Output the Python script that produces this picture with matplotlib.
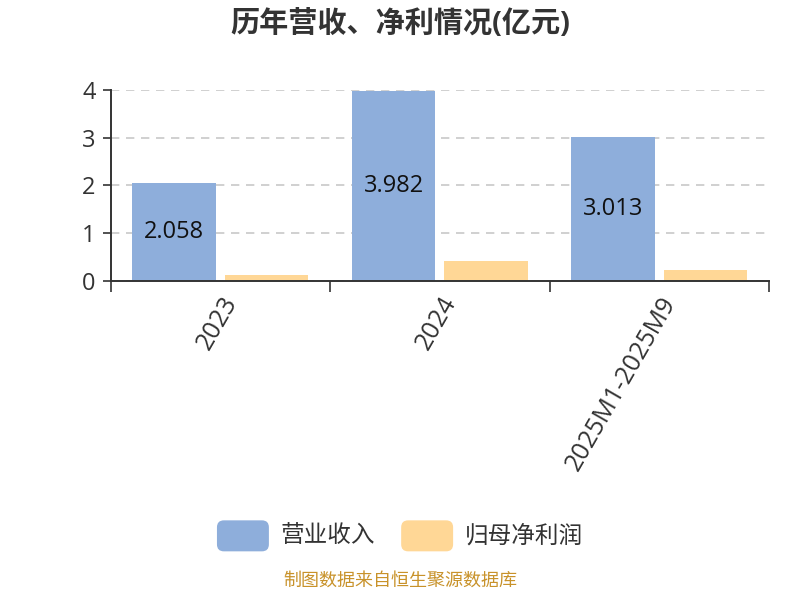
import matplotlib
matplotlib.use("Agg")
import matplotlib.pyplot as plt
import numpy as np
from matplotlib.patches import FancyBboxPatch
from matplotlib.legend_handler import HandlerPatch

plt.rcParams['font.family'] = ['Open Sans', 'Noto Sans CJK SC', 'DejaVu Sans']

categories = ["2023", "2024", "2025M1-2025M9"]
revenue = [2.058, 3.982, 3.013]
net_profit = [0.12, 0.41, 0.24]
revenue_labels = ["2.058", "3.982", "3.013"]
series_names = ["营业收入", "归母净利润"]
colors = ["#8eaedb", "#ffd796"]


class RoundHandler(HandlerPatch):
    def create_artists(self, legend, orig_handle, xdescent, ydescent,
                       width, height, fontsize, trans):
        p = FancyBboxPatch((-xdescent, -ydescent - 4), width, height + 6,
                           boxstyle="round,pad=0,rounding_size=5",
                           facecolor=orig_handle.get_facecolor(),
                           edgecolor="none", transform=trans)
        return [p]


fig = plt.figure(figsize=(8, 6), dpi=100)
ax = fig.add_axes([0.13875, 0.5317, 0.8225, 0.3183])

x = np.arange(len(categories))
w = 0.38
b1 = ax.bar(x - 0.212, revenue, w, color=colors[0], label=series_names[0], zorder=2)
b2 = ax.bar(x + 0.21, net_profit, w, color=colors[1], label=series_names[1], zorder=2)

for rect, lab in zip(b1, revenue_labels):
    ax.text(rect.get_x() + rect.get_width() / 2, rect.get_height() / 2, lab,
            ha="center", va="center", fontsize=17, color="#111111", zorder=3)

ax.set_xlim(-0.5, len(categories) - 0.5)
ax.set_ylim(0, 4)
ax.set_yticks([0, 1, 2, 3, 4])
ax.yaxis.grid(True, linestyle=(0, (5, 4)), color="#c8c8c8", linewidth=1.2, zorder=0)
ax.tick_params(axis="y", labelsize=17, length=6, width=1.2, color="#333333",
               labelcolor="#333333", pad=5)

ax.set_xticks(np.arange(len(categories) + 1) - 0.5)
ax.set_xticklabels([])
ax.set_xticks(x, minor=True)
ax.set_xticklabels(categories, minor=True, rotation=60, ha="right", va="top",
                   rotation_mode="anchor", fontsize=18, color="#333333")
ax.tick_params(axis="x", which="major", length=8, width=1.2, color="#333333")
ax.tick_params(axis="x", which="minor", length=0, pad=8)

for s in ["top", "right"]:
    ax.spines[s].set_visible(False)
for s in ["left", "bottom"]:
    ax.spines[s].set_color("#333333")
    ax.spines[s].set_linewidth(1.4)

fig.text(0.5, 0.96, "历年营收、净利情况(亿元)", ha="center", va="center",
         fontsize=21, fontweight="bold", color="#333333")

h1, h2 = b1.patches[0], b2.patches[0]
fig.legend(handles=[h1, h2], labels=series_names, loc="center",
           bbox_to_anchor=(0.5, 0.107), ncol=2, frameon=False, fontsize=17,
           handlelength=2.2, handleheight=1.1, handletextpad=0.5,
           columnspacing=1.1, labelcolor="#333333",
           handler_map={h1: RoundHandler(), h2: RoundHandler()})

fig.text(0.5, 0.018, "制图数据来自恒生聚源数据库", ha="center", va="bottom",
         fontsize=13, color="#c8922a")

fig.savefig("out.png", dpi=100)
